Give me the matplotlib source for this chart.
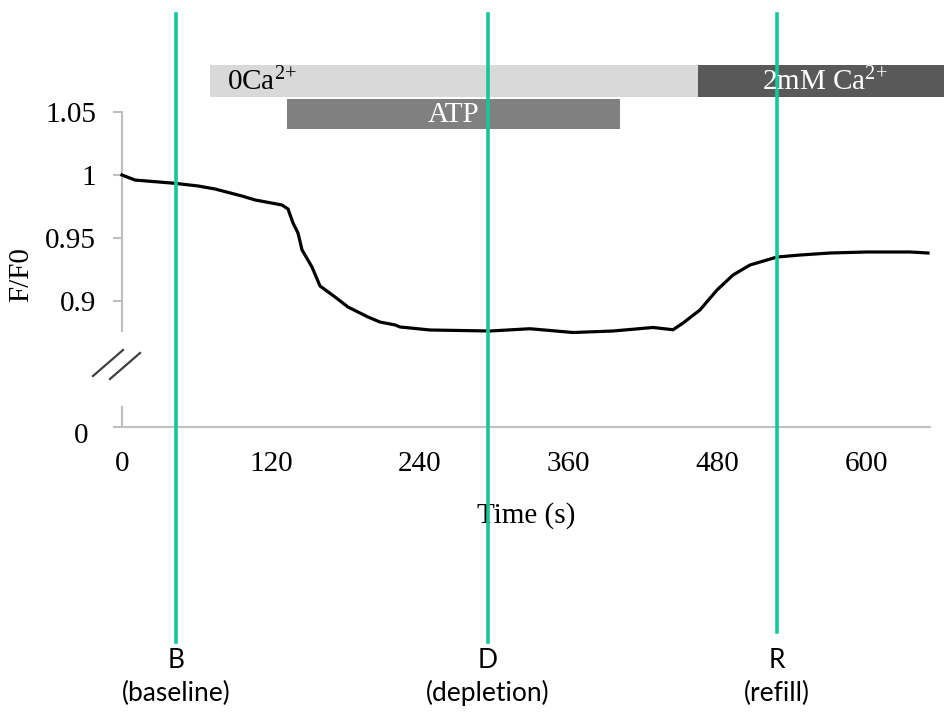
import matplotlib
matplotlib.use("Agg")
import matplotlib.pyplot as plt
from matplotlib.lines import Line2D
from matplotlib.transforms import ScaledTranslation, blended_transform_factory

plt.rcParams["font.family"] = ["Liberation Serif", "DejaVu Serif"]
plt.rcParams["mathtext.fontset"] = "custom"
plt.rcParams["mathtext.rm"] = "Liberation Serif"
plt.rcParams["mathtext.default"] = "regular"

# Fluorescence trace (F/F0) over time
time_s = [0, 10.5, 42.7, 61.3, 75, 96.8, 107.3, 129, 133.9, 137.9, 141.9, 145.2,
          153.2, 159.7, 171.8, 182.3, 198.4, 208.1, 220.2, 224.2, 248.4, 296.8,
          329, 363.7, 396, 428.2, 444.4, 452.4, 466.1, 479.8, 492.7, 506.5,
          528.2, 546.8, 571, 600.8, 635.5, 650]
ratio = [1.000, 0.996, 0.9934, 0.9913, 0.9889, 0.9833, 0.9802, 0.9762, 0.9730,
         0.9619, 0.9540, 0.9405, 0.9270, 0.9119, 0.9032, 0.8952, 0.8873, 0.8833,
         0.8810, 0.8794, 0.8770, 0.8762, 0.8780, 0.8750, 0.8762, 0.8790, 0.8772,
         0.8825, 0.8929, 0.9087, 0.9206, 0.9286, 0.9349, 0.9365, 0.9381, 0.9389,
         0.9389, 0.9381]

y_ticks = [0.9, 0.95, 1.0, 1.05]
y_tick_labels = ["0.9", "0.95", "1", "1.05"]
x_ticks = [0, 120, 240, 360, 480, 600]

# Treatment periods (start, end) in seconds
zero_ca_period = (71, 464.5)
atp_period = (133, 402)
ca_2mm_period = (464.5, 663)

# Sampling time points
marker_times = [43.5, 295, 528]
marker_letters = ["B", "D", "R"]
marker_names = ["(baseline)", "(depletion)", "(refill)"]

W, H = 944, 714
fig = plt.figure(figsize=(W / 100, H / 100), dpi=100)


def fx(px):
    return px / W


def fy(py):
    return 1 - py / H


gray = "#bfbfbf"
green = "#14c79a"
tsize = 21
sans = ["Lato", "DejaVu Sans"]
x_max = 651.6

# upper part of the broken value axis
ax = fig.add_axes([fx(122), fy(331), fx(930) - fx(122), (331 - 112) / H])
ax.set_xlim(0, x_max)
ax.set_ylim(0.8762, 1.05)
ax.patch.set_alpha(0)
for s in ["top", "right", "bottom"]:
    ax.spines[s].set_visible(False)
ax.spines["left"].set_color(gray)
ax.spines["left"].set_linewidth(1.5)
ax.set_xticks([])
ax.set_yticks(y_ticks, y_tick_labels)
ax.tick_params(axis="y", colors=gray, labelcolor="black", length=6.5, width=1.5,
               pad=12, labelsize=tsize)
ax.plot(time_s, ratio, color="black", lw=2.3, zorder=5, clip_on=False)
ax.set_ylabel("F/F0", fontsize=tsize)
ax.yaxis.set_label_coords(-(122 - 34) / 808, (331 - 275) / 219)

# lower part (zero) carrying the time axis
axb = fig.add_axes([fx(122), fy(427), fx(930) - fx(122), 20 / H])
axb.set_xlim(0, x_max)
axb.set_ylim(0, 1)
axb.patch.set_alpha(0)
for s in ["top", "right"]:
    axb.spines[s].set_visible(False)
for s in ["left", "bottom"]:
    axb.spines[s].set_color(gray)
    axb.spines[s].set_linewidth(1.5)
axb.set_yticks([0], ["0"])
axb.tick_params(axis="y", colors=gray, labelcolor="black", length=6.5, width=1.5,
                pad=18, labelsize=tsize)
for lbl in axb.get_yticklabels():
    lbl.set_transform(lbl.get_transform() + ScaledTranslation(0, -0.06, fig.dpi_scale_trans))
axb.set_xticks(x_ticks, [str(v) for v in x_ticks])
axb.tick_params(axis="x", length=0, pad=17, labelsize=tsize)
axb.set_xlabel("Time (s)", fontsize=tsize, labelpad=18)

# axis break marks
for x0, y0, x1, y1 in [(93, 376, 123, 350), (110, 379, 140, 353)]:
    fig.add_artist(Line2D([fx(x0), fx(x1)], [fy(y0), fy(y1)], color="#404040", lw=1.6))

# sampling time lines across the figure
trans = blended_transform_factory(ax.transData, fig.transFigure)
ends = [642, 642, 632]
for t, letter, name, yend in zip(marker_times, marker_letters, marker_names, ends):
    fig.add_artist(Line2D([t, t], [fy(14), fy(yend)], transform=trans,
                          color=green, lw=2.6, zorder=1))
    fig.text(t, fy(661), letter, transform=trans, ha="center", va="center",
             fontsize=19, family=sans)
    fig.text(t, fy(693), name, transform=trans, ha="center", va="center",
             fontsize=19, family=sans)


# treatment bars
def period_bar(period, ytop, ybot, color):
    ax.add_patch(plt.Rectangle((period[0], fy(ybot)), period[1] - period[0],
                               (ybot - ytop) / H, transform=trans, color=color,
                               clip_on=False, zorder=3, lw=0))


period_bar(zero_ca_period, 65, 97, "#d9d9d9")
period_bar(ca_2mm_period, 65, 97, "#595959")
period_bar(atp_period, 99, 129, "#808080")

fig.text(zero_ca_period[0] + 14, fy(82), "0Ca$^{2{+}}$", transform=trans,
         ha="left", va="center", fontsize=tsize, color="black", zorder=4)
fig.text((atp_period[0] + atp_period[1]) / 2, fy(115), "ATP", transform=trans,
         ha="center", va="center", fontsize=tsize, color="white", zorder=4)
fig.text((ca_2mm_period[0] + ca_2mm_period[1]) / 2 + 3, fy(82), "2mM Ca$^{2{+}}$",
         transform=trans, ha="center", va="center", fontsize=tsize,
         color="white", zorder=4)

fig.savefig("out.png", dpi=100)
